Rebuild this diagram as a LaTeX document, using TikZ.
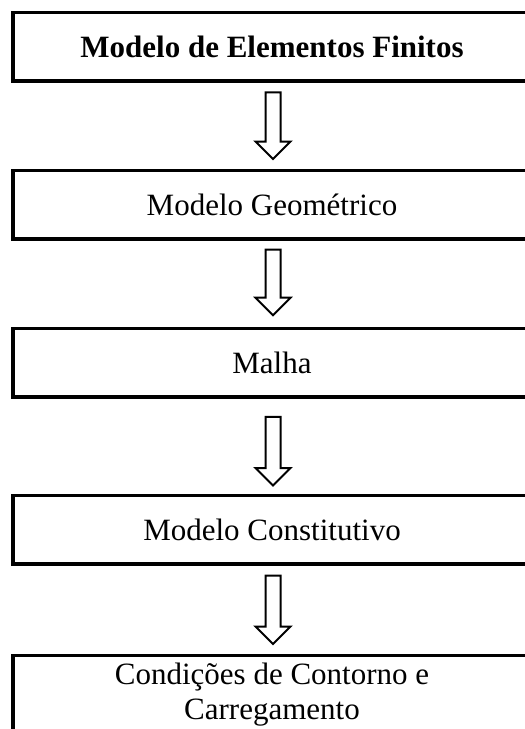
\documentclass[tikz,border=0pt]{standalone}
\usepackage{fontspec}
\setmainfont{Liberation Serif}
\usetikzlibrary{calc}
\newcommand\fatarrow[4]{%
  \coordinate (t) at ($(#1.south)+(1,#3)$);
  \coordinate (p) at ($(#2.north)+(1,-#4)$);
  \draw[fat] ($(t)+(-7.5,0)$) -- ($(t)+(7.5,0)$) -- ($(p)+(7.5,-17.5)$)
    -- ($(p)+(17.5,-17.5)$) -- (p) -- ($(p)+(-17.5,-17.5)$)
    -- ($(p)+(-7.5,-17.5)$) -- cycle;}
\begin{document}
\begin{tikzpicture}[x=1pt,y=-1pt,
  box/.style={draw, line width=3.5pt, minimum width=518pt, minimum height=68.5pt,
    inner sep=0pt, text height=21pt, text depth=0pt,
    font=\fontsize{31}{35}\selectfont},
  fat/.style={draw, line width=2pt, fill=white, line join=miter}]
\useasboundingbox (0,0) rectangle (525,729);
\clip (0,0) rectangle (525,729);
\node[box] (b1) at (272,46.75) {\textbf{Modelo de Elementos Finitos}};
\node[box] (b2) at (272,204.5) {Modelo Geométrico};
\node[box] (b3) at (272,362.9) {Malha};
\node[box] (b4) at (272,529.5) {Modelo Constitutivo};
\node[box, anchor=north, text height=29.3pt, text depth=90pt] (b5) at (272,653.7)
  {\begin{tabular}[t]{@{}c@{}}Condições de Contorno e\\Carregamento\end{tabular}};
\fatarrow{b1}{b2}{9.5}{9.5}
\fatarrow{b2}{b3}{9}{11.7}
\fatarrow{b3}{b4}{18}{8}
\fatarrow{b4}{b5}{10}{9.7}
\end{tikzpicture}
\end{document}
